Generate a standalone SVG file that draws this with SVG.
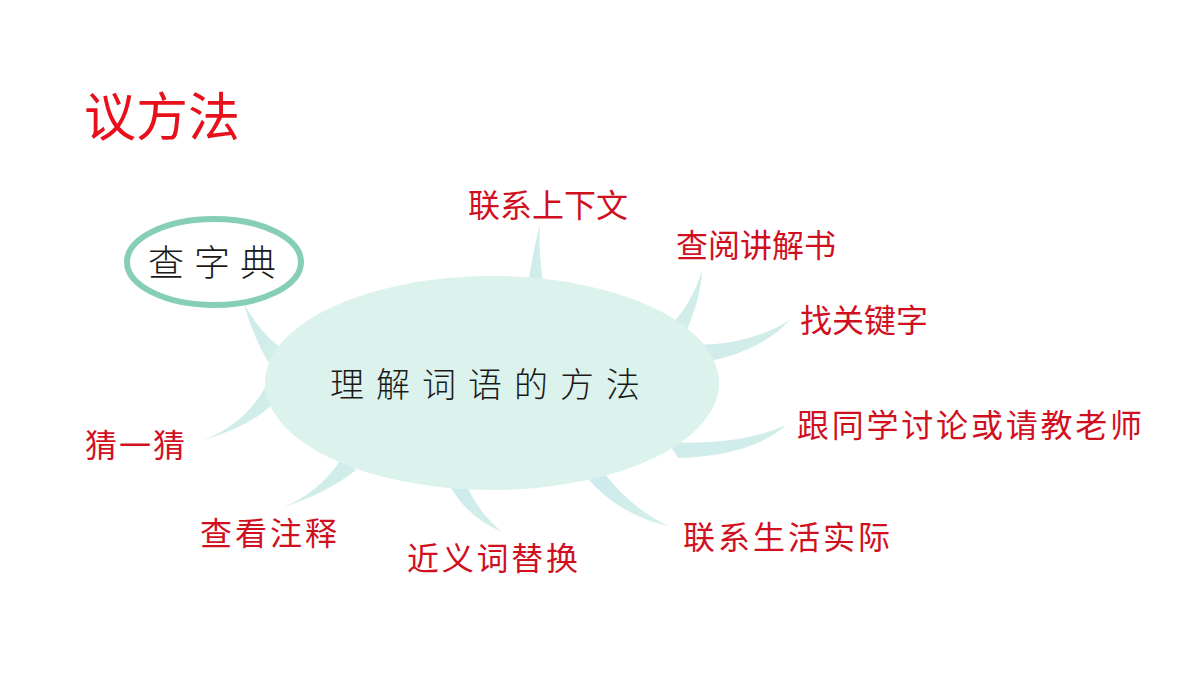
<svg xmlns="http://www.w3.org/2000/svg" width="1200" height="675" viewBox="0 0 1200 675">
<style>
.lbl{font-family:"Noto Sans CJK SC","Noto Sans CJK JP",sans-serif;font-size:32px;fill:#d0101f;}
.title{font-family:"Noto Sans CJK SC","Noto Sans CJK JP",sans-serif;font-size:52px;fill:#e8101a;}
.ctr{font-family:"Noto Sans CJK SC","Noto Sans CJK JP",sans-serif;font-size:34px;font-weight:300;fill:#1a1a1a;letter-spacing:12px;}
.spike{fill:url(#sg);}
</style>
<defs>
<linearGradient id="sg" x1="0" y1="0" x2="1" y2="1">
<stop offset="0" stop-color="#cde9f0"/>
<stop offset="1" stop-color="#d3f0e6"/>
</linearGradient>
</defs>
<rect width="1200" height="675" fill="#ffffff"/>
<text class="title" x="84" y="136">议方法</text>
<g id="connectors">
<path class="spike" d="M527 292 Q532 255 540 224 Q538 258 545 292 Z"/>
<path class="spike" d="M664 332 Q692 306 702 270 Q701 300 684 336 Z"/>
<path class="spike" d="M698 345 Q752 344 790 320 Q760 352 705 362 Z"/>
<path class="spike" d="M668 442 Q740 446 786 425 Q752 456 678 458 Z"/>
<path class="spike" d="M584 474 Q616 514 668 526 Q628 506 602 470 Z"/>
<path class="spike" d="M450 486 Q468 518 502 532 Q478 512 466 484 Z"/>
<path class="spike" d="M342 458 Q318 494 283 507 Q326 494 356 470 Z"/>
<path class="spike" d="M266 386 Q244 426 200 441 Q248 428 273 404 Z"/>
<path class="spike" d="M268 362 Q252 334 244 304 Q262 336 284 350 Z"/>
</g>
<g id="center">
<ellipse cx="492" cy="383" rx="227" ry="107" fill="#dcf2ec"/>
<text class="ctr" x="330" y="397">理解词语的方法</text>
</g>
<g id="dict">
<ellipse cx="214" cy="262" rx="87" ry="43" fill="#ffffff" stroke="#86cfb5" stroke-width="6"/>
<text class="ctr" x="148" y="276" style="font-size:36px;letter-spacing:10px">查字典</text>
</g>
<g id="n1"><text class="lbl" x="468" y="217">联系上下文</text></g>
<g id="n2"><text class="lbl" x="676" y="257">查阅讲解书</text></g>
<g id="n3"><text class="lbl" x="800" y="332">找关键字</text></g>
<g id="n4"><text class="lbl" x="797" y="437" textLength="345">跟同学讨论或请教老师</text></g>
<g id="n5"><text class="lbl" x="683" y="549" textLength="207">联系生活实际</text></g>
<g id="n6"><text class="lbl" x="407" y="570" textLength="171">近义词替换</text></g>
<g id="n7"><text class="lbl" x="200" y="545" textLength="137">查看注释</text></g>
<g id="n8"><text class="lbl" x="85" y="457" textLength="100">猜一猜</text></g>
</svg>
